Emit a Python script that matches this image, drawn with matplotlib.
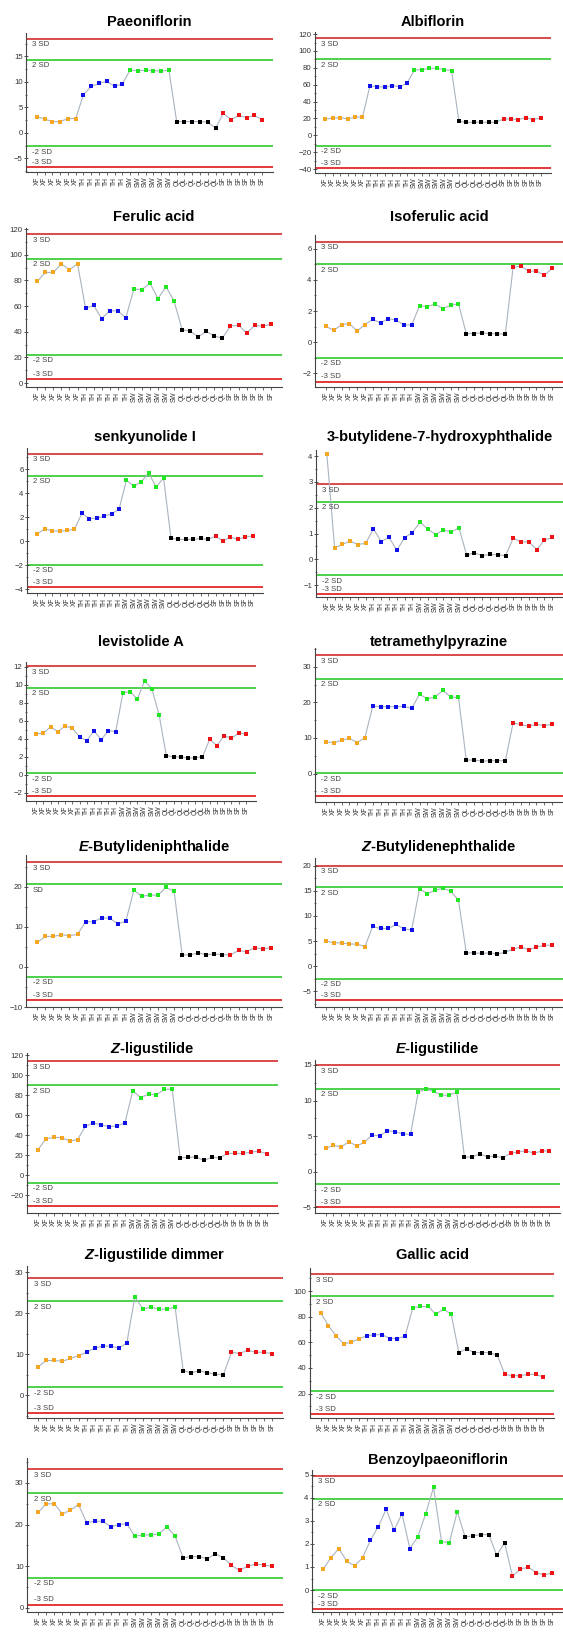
import matplotlib
matplotlib.use("Agg")
import matplotlib.pyplot as plt
import matplotlib.transforms as mtransforms
from matplotlib.ticker import MultipleLocator
import numpy as np

plt.rcParams['font.family'] = ['Liberation Sans', 'DejaVu Sans']
plt.rcParams['mathtext.fontset'] = 'custom'
plt.rcParams['mathtext.it'] = 'Liberation Sans:italic:bold'

groups = ['XF', 'TH', 'SW', 'QL', 'SF']
group_colors = ['#f5a623', '#1010e8', '#22e622', '#000000', '#ec1414']
n_rep = 6
x_labels = [g for g in groups for _ in range(n_rep)]

# sample values, 6 per group (XF, TH, SW, QL, SF)
paeoniflorin = [3.2, 2.7, 2.2, 2.2, 2.8, 2.8, 7.5, 9.1, 9.7, 10.1, 9.1, 9.6,
                12.3, 12.2, 12.3, 12.2, 12.1, 12.3, 2.2, 2.2, 2.2, 2.2, 2.1, 0.9,
                3.8, 2.6, 3.4, 3.0, 3.4, 2.6]
albiflorin = [19.4, 20.2, 21.0, 19.4, 21.7, 21.7, 58.5, 57.7, 56.9, 58.9, 57.7, 61.7,
              77.5, 77.9, 79.4, 79.4, 77.9, 76.7, 16.6, 15.4, 15.4, 15.4, 15.4, 15.4,
              19.4, 19.4, 18.6, 21.0, 18.6, 20.6]
ferulic_acid = [79.2, 86.2, 86.2, 92.9, 88.3, 92.9, 58.3, 60.6, 50.3, 56.3, 56.3, 50.8,
                73.3, 72.8, 77.9, 65.8, 75.1, 63.7, 41.5, 40.5, 36.1, 40.3, 36.6, 35.1,
                44.4, 45.2, 39.0, 44.9, 44.4, 45.7]
isoferulic_acid = [1.01, 0.75, 1.12, 1.19, 0.71, 1.12, 1.47, 1.23, 1.51, 1.42, 1.10, 1.10,
                   2.33, 2.29, 2.44, 2.16, 2.37, 2.46, 0.54, 0.54, 0.60, 0.54, 0.54, 0.50,
                   4.81, 4.90, 4.55, 4.60, 4.29, 4.75]
senkyunolide_i = [0.61, 1.03, 0.84, 0.84, 0.89, 0.98, 2.32, 1.87, 1.93, 2.07, 2.29, 2.65,
                  5.08, 4.58, 4.94, 5.70, 4.50, 5.28, 0.25, 0.14, 0.14, 0.14, 0.22, 0.14,
                  0.42, 0.00, 0.34, 0.14, 0.36, 0.42]
butylidene_hydroxyphthalide = [4.07, 0.44, 0.58, 0.71, 0.57, 0.63, 1.18, 0.69, 0.85, 0.35, 0.84, 1.04,
                               1.44, 1.17, 0.96, 1.14, 1.06, 1.22, 0.16, 0.26, 0.14, 0.19, 0.18, 0.14,
                               0.83, 0.66, 0.69, 0.38, 0.74, 0.85]
levistolide_a = [4.56, 4.60, 5.33, 4.78, 5.40, 5.18, 4.20, 3.80, 4.85, 3.90, 4.90, 4.78,
                 9.08, 9.23, 8.38, 10.44, 9.52, 6.65, 2.13, 1.99, 1.99, 1.84, 1.91, 1.99,
                 3.93, 3.24, 4.34, 4.04, 4.63, 4.56]
tetramethylpyrazine = [8.9, 8.7, 9.3, 9.9, 8.7, 10.1, 18.9, 18.8, 18.8, 18.8, 18.9, 18.3,
                       22.3, 21.0, 21.5, 23.4, 21.5, 21.4, 3.8, 3.8, 3.5, 3.6, 3.6, 3.6,
                       14.2, 13.8, 13.3, 13.8, 13.5, 13.8]
e_butylidenephthalide = [6.1, 7.6, 7.6, 8.0, 7.8, 8.1, 11.25, 11.25, 12.25, 12.1, 10.75, 11.4,
                         19.1, 17.6, 17.9, 17.9, 19.8, 18.8, 3.0, 3.0, 3.5, 3.0, 3.25, 3.0,
                         3.0, 4.1, 3.8, 4.75, 4.5, 4.75]
z_butylidenephthalide = [5.0, 4.65, 4.65, 4.4, 4.4, 3.9, 7.9, 7.5, 7.5, 8.3, 7.4, 7.25,
                         15.4, 14.4, 15.1, 15.5, 14.9, 13.1, 2.66, 2.66, 2.53, 2.66, 2.4, 2.8,
                         3.4, 3.85, 3.26, 3.85, 4.12, 4.26]
z_ligustilide = [25.5, 36.5, 37.9, 37.5, 34.2, 35.5, 48.9, 52.3, 50.3, 48.6, 49.2, 52.3,
                 84.4, 77.7, 81.1, 80.4, 85.8, 86.4, 17.4, 17.8, 18.4, 14.7, 17.8, 17.4,
                 21.8, 21.8, 21.8, 23.1, 24.1, 21.1]
e_ligustilide = [3.29, 3.71, 3.47, 4.23, 3.62, 4.13, 5.16, 5.02, 5.77, 5.63, 5.31, 5.26,
                 11.2, 11.6, 11.3, 10.75, 10.75, 11.2, 2.02, 2.10, 2.50, 2.10, 2.20, 1.97,
                 2.63, 2.77, 2.96, 2.58, 2.91, 2.91]
z_ligustilide_dimer = [7.0, 8.5, 8.5, 8.3, 9.0, 9.7, 10.5, 11.5, 12.0, 12.0, 11.5, 12.8,
                       24.0, 21.0, 21.5, 21.0, 21.0, 21.5, 6.0, 5.5, 6.0, 5.5, 5.2, 5.0,
                       10.5, 10.2, 11.0, 10.5, 10.5, 10.2]
gallic_acid = [83, 73, 65, 59, 60, 63, 65, 66, 66, 63, 63, 65,
               87, 88, 88, 82, 86, 82, 52, 55, 52, 52, 52, 50,
               35, 34, 34, 35, 35, 33]
untitled_panel = [23.0, 25.0, 25.0, 22.5, 23.5, 24.8, 20.5, 20.8, 20.8, 19.5, 20.0, 20.2,
                  17.2, 17.5, 17.5, 17.8, 19.5, 17.2, 12.0, 12.3, 12.3, 11.8, 13.0, 12.0,
                  10.2, 9.0, 10.0, 10.5, 10.3, 10.0]
benzoylpaeoniflorin = [0.9, 1.4, 1.8, 1.25, 1.05, 1.4, 2.15, 2.75, 3.5, 2.6, 3.3, 1.8,
                       2.3, 3.3, 4.45, 2.1, 2.05, 3.4, 2.3, 2.35, 2.4, 2.4, 1.5, 2.05,
                       0.6, 0.9, 1.0, 0.75, 0.65, 0.75]

# control limits: +3SD, +2SD, -2SD, -3SD
sd_paeoniflorin = [18.5, 14.3, -2.6, -6.8]
sd_albiflorin = [115, 90, -12.6, -38.7]
sd_ferulic = [115.9, 96.8, 22.2, 3.1]
sd_isoferulic = [6.47, 5.0, -1.01, -2.55]
sd_senkyunolide = [7.29, 5.45, -1.96, -3.83]
sd_butylidene = [2.91, 2.23, -0.62, -1.33]
sd_levistolide = [12.02, 9.63, 0.15, -2.32]
sd_tetramethyl = [33.3, 26.7, 0.1, -6.4]
sd_e_butyl = [26.1, 20.6, -2.5, -8.3]
sd_z_butyl = [19.95, 15.7, -2.46, -6.8]
sd_z_lig = [113.9, 89.8, -7.4, -31.2]
sd_e_lig = [14.93, 11.64, -1.74, -4.93]
sd_z_lig_dimer = [28.5, 22.9, 2.0, -4.3]
sd_gallic = [113, 96, 22, 4]
sd_untitled = [33.3, 27.5, 7.2, 0.8]
sd_benzoyl = [4.95, 3.95, 0.0, -0.82]

sd_text = ['3 SD', '2 SD', '-2 SD', '-3 SD']
sd_text_e_butyl = ['3 SD', 'SD', '-2 SD', '-3 SD']

W, H = 563, 1632
fig = plt.figure(figsize=(W / 100, H / 100), dpi=100)

# title, values, limits, limit labels, ylim, major, minor, box px (l, t, r, b), title y px
panels = [
    ('Paeoniflorin', paeoniflorin, sd_paeoniflorin, sd_text, (-7.7, 19.6), 5, 2.5, (26, 33, 273, 172), 22),
    ('Albiflorin', albiflorin, sd_albiflorin, sd_text, (-44.7, 122.5), 20, 10, (315, 32, 551, 173), 22),
    ('Ferulic acid', ferulic_acid, sd_ferulic, sd_text, (-3, 120.8), 20, 10, (26, 228, 282, 387), 217),
    ('Isoferulic acid', isoferulic_acid, sd_isoferulic, sd_text, (-2.9, 6.9), 2, 1, (315, 235, 563, 387), 217),
    ('senkyunolide I', senkyunolide_i, sd_senkyunolide, sd_text, (-4.33, 7.77), 2, 1, (27, 448, 263, 593), 437),
    ('3-butylidene-7-hydroxyphthalide', butylidene_hydroxyphthalide, sd_butylidene, sd_text, (-1.46, 4.24), 1, 0.5, (316, 450, 563, 597), 437),
    ('levistolide A', levistolide_a, sd_levistolide, sd_text, (-2.9, 12.5), 2, 1, (26, 662, 256, 801), 642),
    ('tetramethylpyrazine', tetramethylpyrazine, sd_tetramethyl, sd_text, (-8, 35.3), 10, 5, (315, 648, 563, 802), 642),
    (r'$\mathit{E}$-Butylideniphthalide', e_butylidenephthalide, sd_e_butyl, sd_text_e_butyl, (-10, 27.9), 10, 5, (26, 855, 282, 1007), 847),
    (r'$\mathit{Z}$-Butylidenephthalide', z_butylidenephthalide, sd_z_butyl, sd_text, (-8.1, 21.5), 5, 2.5, (315, 858, 563, 1007), 847),
    (r'$\mathit{Z}$-ligustilide', z_ligustilide, sd_z_lig, sd_text, (-37.9, 122.3), 20, 10, (27, 1053, 278, 1213), 1049),
    (r'$\mathit{E}$-ligustilide', e_ligustilide, sd_e_lig, sd_text, (-5.8, 15.7), 5, 2.5, (315, 1060, 560, 1213), 1049),
    (r'$\mathit{Z}$-ligustilide dimmer', z_ligustilide_dimer, sd_z_lig_dimer, sd_text, (-5.5, 31.5), 10, 5, (27, 1266, 283, 1418), 1255),
    ('Gallic acid', gallic_acid, sd_gallic, sd_text, (1, 118), 20, 10, (310, 1268, 554, 1418), 1255),
    ('', untitled_panel, sd_untitled, sd_text, (-1, 36), 10, 5, (27, 1458, 283, 1612), 1450),
    ('Benzoylpaeoniflorin', benzoylpaeoniflorin, sd_benzoyl, sd_text, (-0.95, 5.2), 1, 0.5, (312, 1470, 563, 1612), 1460),
]

x = np.arange(1, len(x_labels) + 1)
line_colors = ['#d93a3a', '#3fcf3f', '#3fcf3f', '#e02828']

for title, vals, limits, labels, ylim, major, minor, box, ty in panels:
    l, t, r, b = box
    ax = fig.add_axes([l / W, 1 - b / H, (r - l) / W, (b - t) / H])
    for v, c in zip(limits, line_colors):
        ax.axhline(v, color=c, lw=1.3, zorder=1)
    trans = mtransforms.blended_transform_factory(ax.transAxes, ax.transData)
    for i, (v, s) in enumerate(zip(limits, labels)):
        if i == 3:
            ax.annotate(s, xy=(0.02, v), xycoords=trans, xytext=(1, 0.8),
                        textcoords='offset points', va='bottom', ha='left',
                        fontsize=5.6, color='#444444')
        else:
            ax.annotate(s, xy=(0.02, v), xycoords=trans, xytext=(1, -1.8),
                        textcoords='offset points', va='top', ha='left',
                        fontsize=5.6, color='#444444')
    ax.plot(x, vals, color='#aab4c0', lw=0.8, zorder=2)
    for g, c in enumerate(group_colors):
        sl = slice(g * n_rep, (g + 1) * n_rep)
        ax.plot(x[sl], np.array(vals)[sl], 's', color=c, ms=3, mew=0, zorder=3)
    ax.set_xlim(-0.4, 31.4)
    ax.set_ylim(*ylim)
    ax.yaxis.set_major_locator(MultipleLocator(major))
    ax.yaxis.set_minor_locator(MultipleLocator(minor))
    ax.set_xticks(x)
    ax.set_xticklabels(x_labels, rotation=90, fontsize=4.8, color='#222222')
    ax.tick_params(axis='y', which='major', labelsize=5.6, direction='inout',
                   length=3, width=0.6, colors='#333333', pad=1)
    ax.tick_params(axis='y', which='minor', direction='inout', length=2, width=0.5, colors='#333333')
    ax.tick_params(axis='x', direction='out', length=2, width=0.5, pad=1.5, colors='#333333')
    for side in ['top', 'right']:
        ax.spines[side].set_visible(False)
    for side in ['left', 'bottom']:
        ax.spines[side].set_color('#444444')
        ax.spines[side].set_linewidth(0.8)
    ax.patch.set_alpha(0)
    if title:
        fig.text((l + r) / 2 / W, 1 - ty / H, title, ha='center', va='center',
                 fontsize=10.5, fontweight='bold')

fig.savefig('out.png', dpi=100)
